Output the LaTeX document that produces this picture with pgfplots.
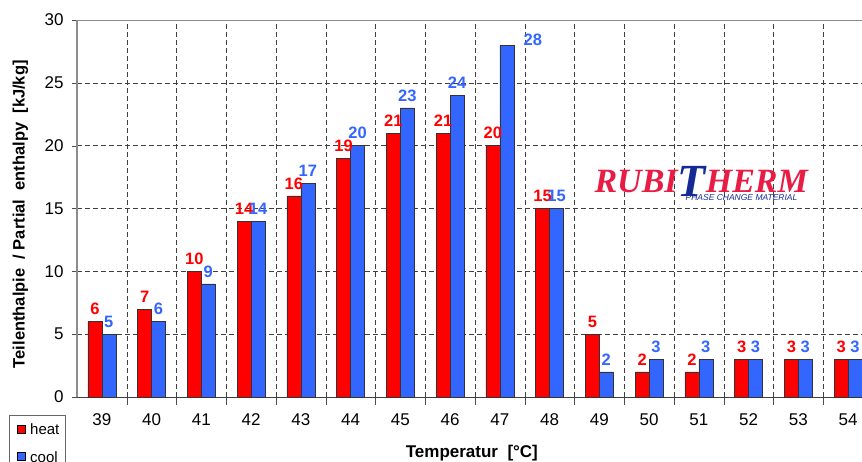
\documentclass[border=0pt]{standalone}
\usepackage{pgfplots}
\usepackage{pgfplotstable}
\pgfplotsset{compat=1.18}
\usepackage{fontspec}
\setmainfont{Liberation Sans}
\newfontfamily\logofont{Liberation Serif}

\definecolor{heatred}{RGB}{255,0,0}
\definecolor{coolblue}{RGB}{51,102,255}
\definecolor{logored}{RGB}{232,28,68}
\definecolor{logoblue}{RGB}{22,42,150}

% temperature index (39 -> 0), value
\pgfplotstableread{
x  y
0  6
1  7
2  10
3  14
4  16
5  19
6  21
7  21
8  20
9  15
10 5
11 2
12 2
13 3
14 3
15 3
}\heatdata

\pgfplotstableread{
x  y
0  5
1  6
2  9
3  14
4  17
5  20
6  23
7  24
8  28
9  15
10 2
11 3
12 3
13 3
14 3
15 3
}\cooldata

\begin{document}
\begin{tikzpicture}
\begin{axis}[
    scale only axis,
    width=785pt, height=377pt,
    xmin=-0.5, xmax=15.28,
    ymin=0, ymax=30,
    axis x line*=bottom,
    axis y line*=left,
    axis line style={-},
    x axis line style={black!75},
    y axis line style={black!45, line width=1.2pt},
    tick align=outside,
    tick style={black!70},
    xtick={0,...,15},
    xticklabels={39,40,41,42,43,44,45,46,47,48,49,50,51,52,53,54},
    major x tick style={draw=none},
    minor xtick={0.5,1.5,...,15.5},
    minor tick length=8pt,
    minor x grid style={black!75, dash pattern=on 5pt off 3pt},
    xminorgrids,
    ytick={0,5,...,30},
    major tick length=5pt,
    ymajorgrids,
    major y grid style={black!75, dash pattern=on 5pt off 3pt},
    ticklabel style={font=\fontsize{17}{17}\selectfont},
    xticklabel style={yshift=-8pt},
    yticklabel style={xshift=-5pt},
    /pgf/number format/assume math mode=true,
    xlabel={Temperatur\ \ [°C]},
    xlabel style={font=\bfseries\fontsize{17}{17}\selectfont,
        at={(axis description cs:0.503,-0.148)}, anchor=center},
    ylabel={Teilenthalpie\ \ /\ Partial\ \ enthalpy\ \ [kJ/kg]},
    ylabel style={font=\bfseries\fontsize{16.5}{16.5}\selectfont,
        at={(axis description cs:-0.072,0.485)}, anchor=center},
    ybar, bar width=0.28,
    nodes near coords,
    nodes near coords style={font=\bfseries\fontsize{16.5}{16.5}\selectfont, yshift=3pt},
    legend style={at={(axis description cs:-0.0866,-0.047)}, anchor=north west,
        draw=black!60, font=\fontsize{15}{15}\selectfont,
        row sep=11pt, inner xsep=4pt, inner ysep=7pt},
    legend cell align=left,
    legend image code/.code={%
        \path[draw=none, fill=none] (0pt,0pt) -- (15pt,0pt);
        \draw[#1, draw=black] (4pt,-3pt) rectangle (12pt,5pt);},
    clip=false,
]
\addplot[fill=heatred, draw=black!80, bar shift=-0.14,
    nodes near coords style={text=heatred}] table[x=x, y=y] {\heatdata};
\addplot[fill=coolblue, draw=black!80, bar shift=0.14,
    nodes near coords style={text=coolblue},
    coordinate style/.condition={\coordindex==8}{xshift=26pt, yshift=-7pt}]
    table[x=x, y=y] {\cooldata};
\legend{heat, cool}

\draw[black!45, line width=1pt] (rel axis cs:0,1) -- (rel axis cs:1,1);

\node[anchor=base west, inner sep=0pt] at (axis cs:9.9,16.3)
    {\logofont\bfseries\itshape\fontsize{34}{34}\selectfont
     \textcolor{logored}{RUBI}\raisebox{-4pt}{\fontsize{46}{46}\selectfont\textcolor{logoblue}{T}}\textcolor{logored}{HERM}};
\node[anchor=base west, inner sep=0pt] at (axis cs:11.73,15.65)
    {\itshape\fontsize{8.5}{8.5}\selectfont\textcolor{logoblue}{PHASE CHANGE MATERIAL}};
\end{axis}
\pgfresetboundingbox
\path[use as bounding box] (-77pt,-64pt) rectangle (785pt,397pt);
\end{tikzpicture}
\end{document}
